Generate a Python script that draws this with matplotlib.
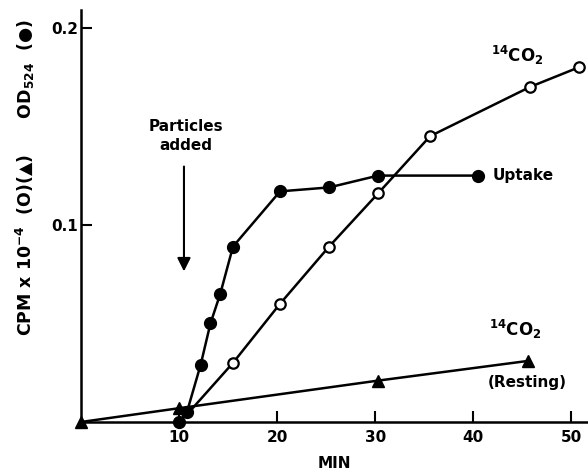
import matplotlib.pyplot as plt

# uptake, OD524 (filled circles)
uptake_x = [10, 10.8, 12.2, 13.2, 14.2, 15.5, 20.3, 25.3, 30.3, 40.5]
uptake_y = [0.0, 0.005, 0.029, 0.050, 0.065, 0.089, 0.117, 0.119, 0.125, 0.125]

# 14CO2 (open circles), first point is the line start only
co2_x = [11.2, 15.5, 20.3, 25.3, 30.3, 35.6, 45.8, 50.8]
co2_y = [0.006, 0.030, 0.060, 0.089, 0.116, 0.145, 0.170, 0.180]

# 14CO2 resting (triangles)
rest_x = [0, 10, 30.3, 45.6]
rest_y = [0.0, 0.007, 0.021, 0.031]

plt.rcParams['font.family'] = 'DejaVu Sans'
plt.rcParams['font.weight'] = 'bold'
plt.rcParams['axes.labelweight'] = 'bold'
plt.rcParams['mathtext.default'] = 'bf'

fig = plt.figure(figsize=(5.88, 4.76), dpi=100)
ax = fig.add_axes([81 / 588, 54 / 476, 507 / 588, 412 / 476])

lw = 1.8
ax.plot(rest_x, rest_y, color='black', lw=lw, marker='^', ms=8, clip_on=False, zorder=3)
ax.plot(co2_x, co2_y, color='black', lw=lw, marker='o', ms=7.5, mfc='white', mec='black',
        mew=1.6, markevery=list(range(1, len(co2_x))), clip_on=False, zorder=4)
ax.plot(uptake_x, uptake_y, color='black', lw=lw, marker='o', ms=8.5, clip_on=False, zorder=5)

ax.set_xlim(0, 51.7)
ax.set_ylim(0, 0.209)
ax.set_xticks([10, 20, 30, 40, 50])
ax.set_yticks([0.1, 0.2])
ax.set_yticklabels(['0.1', '0.2'])
ax.tick_params(direction='in', length=8, width=1.5, labelsize=11, pad=6)
ax.tick_params(axis='y', pad=2)
for s in ['top', 'right']:
    ax.spines[s].set_visible(False)
for s in ['left', 'bottom']:
    ax.spines[s].set_linewidth(1.8)

ax.set_xlabel('MIN', fontsize=11, labelpad=8)

fig.text(25 / 588, 1 - 178 / 476, 'CPM x 10$^{-4}$  (O)(\u25B2)      OD$_{524}$  (\u25CF)',
         rotation=90, ha='center', va='center', fontsize=12.5)

ax.annotate('', xy=(10.5, 0.075), xytext=(10.5, 0.131),
            arrowprops=dict(arrowstyle='-|>', color='black', lw=1.5, mutation_scale=20))
ax.text(10.7, 0.145, 'Particles\nadded', ha='center', va='center', fontsize=11,
        linespacing=1.3)
ax.text(42, 0.125, 'Uptake', ha='left', va='center', fontsize=11)
ax.text(44.5, 0.186, '$^{14}$CO$_2$', ha='center', va='center', fontsize=12)
ax.text(44.3, 0.047, '$^{14}$CO$_2$', ha='center', va='center', fontsize=12)
ax.text(45.5, 0.020, '(Resting)', ha='center', va='center', fontsize=11)

fig.savefig('out.png', dpi=100)
